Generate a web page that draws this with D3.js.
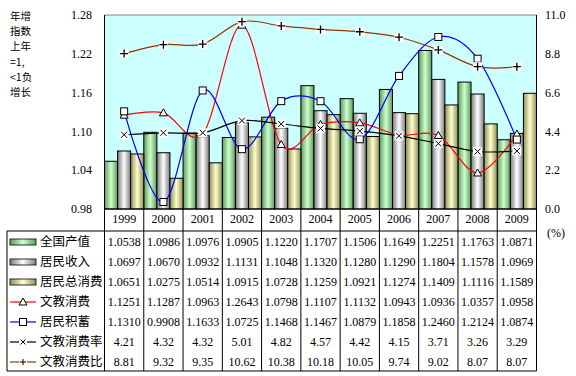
<!DOCTYPE html>
<html>
<head>
<meta charset="utf-8">
<script src="https://cdn.jsdelivr.net/npm/d3@7"></script>
<style>
  body { margin: 0; background: #fff; }
  svg { display: block; }
  .serif { font-family: 'Liberation Serif', 'DejaVu Serif', serif; }
  .cjk { font-family: 'Noto Sans CJK SC', sans-serif; }
</style>
</head>
<body>
<svg id="chart" width="576" height="376"></svg>
<script>
const years = ['1999', '2000', '2001', '2002', '2003', '2004', '2005', '2006', '2007', '2008', '2009']
const gdp = [1.0538, 1.0986, 1.0976, 1.0905, 1.1220, 1.1707, 1.1506, 1.1649, 1.2251, 1.1763, 1.0871]
const income = [1.0697, 1.0670, 1.0932, 1.1131, 1.1048, 1.1320, 1.1280, 1.1290, 1.1804, 1.1578, 1.0969]
const consumption = [1.0651, 1.0275, 1.0514, 1.0915, 1.0728, 1.1259, 1.0921, 1.1274, 1.1409, 1.1116, 1.1589]
const eduSpend = [1.1251, 1.1287, 1.0963, 1.2643, 1.0798, 1.1107, 1.1132, 1.0943, 1.0936, 1.0357, 1.0958]
const savings = [1.1310, 0.9908, 1.1633, 1.0725, 1.1468, 1.1467, 1.0879, 1.1858, 1.2460, 1.2124, 1.0874]
const eduRate = [4.21, 4.32, 4.32, 5.01, 4.82, 4.57, 4.42, 4.15, 3.71, 3.26, 3.29]
const eduRatio = [8.81, 9.32, 9.35, 10.62, 10.38, 10.18, 10.05, 9.74, 9.02, 8.07, 8.07]
const leftTicks = [0.98, 1.04, 1.10, 1.16, 1.22, 1.28]
const rightTicks = [0, 2.2, 4.4, 6.6, 8.8, 11]
const titleLines = ['年增', '指数', '上年', '=1,', '<1负', '增长']

const barSeries = [
  { name: '全国产值', values: gdp, dark: '#5f9a5f', light: '#ccffcc' },
  { name: '居民收入', values: income, dark: '#7a7a7a', light: '#ffffff' },
  { name: '居民总消费', values: consumption, dark: '#8f8f5c', light: '#ffffcc' },
]
const lineSeries = [
  { name: '文教消费', values: eduSpend, color: '#ff0000', marker: 'triangle', axis: 'left', digits: 4 },
  { name: '居民积蓄', values: savings, color: '#0000ff', marker: 'square', axis: 'left', digits: 4 },
  { name: '文教消费率', values: eduRate, color: '#000000', marker: 'x', axis: 'right', digits: 2 },
  { name: '文教消费比', values: eduRatio, color: '#993300', marker: 'plus', axis: 'right', digits: 2 },
]

const plotL = 104.5, plotR = 536.5, plotT = 15, plotB = 209
const tableTop = 231, rowH = 20, tableLeft = 7

const svg = d3.select('#chart')
const defs = svg.append('defs')

barSeries.forEach((s, i) => {
  const g = defs.append('linearGradient').attr('id', 'grad' + i)
    .attr('x1', '0%').attr('x2', '100%').attr('y1', '0%').attr('y2', '0%')
  g.append('stop').attr('offset', '0%').attr('stop-color', s.dark)
  g.append('stop').attr('offset', '50%').attr('stop-color', s.light)
  g.append('stop').attr('offset', '100%').attr('stop-color', s.dark)
})

const x = d3.scaleBand().domain(years).range([plotL, plotR]).padding(0)
const sub = d3.scaleBand().domain(d3.range(barSeries.length)).range([0, x.bandwidth()])
const yL = d3.scaleLinear().domain([0.98, 1.28]).range([plotB, plotT])
const yR = d3.scaleLinear().domain([0, 11]).range([plotB, plotT])

// plot background
svg.append('rect').attr('x', plotL).attr('y', plotT)
  .attr('width', plotR - plotL).attr('height', plotB - plotT).attr('fill', '#ccffff')

// bars
barSeries.forEach((s, i) => {
  svg.append('g').selectAll('rect').data(s.values).join('rect')
    .attr('x', (d, j) => x(years[j]) + sub(i))
    .attr('y', d => yL(d))
    .attr('width', sub.bandwidth())
    .attr('height', d => plotB - yL(d))
    .attr('fill', `url(#grad${i})`)
    .attr('stroke', '#000').attr('stroke-width', 1)
})

// borders
svg.append('line').attr('x1', plotL).attr('x2', plotR).attr('y1', plotT).attr('y2', plotT)
  .attr('stroke', '#808080')
svg.append('line').attr('x1', plotL).attr('x2', plotL).attr('y1', plotT).attr('y2', plotB)
  .attr('stroke', '#000')
svg.append('line').attr('x1', plotR).attr('x2', plotR).attr('y1', plotT).attr('y2', plotB)
  .attr('stroke', '#000')

function drawMarker(g, type, cx, cy) {
  if (type === 'triangle') {
    g.append('path')
      .attr('d', `M${cx},${cy - 4}L${cx + 4},${cy + 3}L${cx - 4},${cy + 3}Z`)
      .attr('fill', '#fff').attr('stroke', '#000').attr('stroke-width', 1)
  } else if (type === 'square') {
    g.append('rect').attr('x', cx - 3.5).attr('y', cy - 3.5).attr('width', 7).attr('height', 7)
      .attr('fill', '#fff').attr('stroke', '#000').attr('stroke-width', 1)
  } else if (type === 'x') {
    g.append('rect').attr('x', cx - 4.5).attr('y', cy - 4.5).attr('width', 9).attr('height', 9).attr('fill', '#fff')
    g.append('path').attr('d', `M${cx - 3},${cy - 3}L${cx + 3},${cy + 3}M${cx - 3},${cy + 3}L${cx + 3},${cy - 3}`)
      .attr('stroke', '#000').attr('stroke-width', 1)
  } else if (type === 'plus') {
    g.append('rect').attr('x', cx - 4.5).attr('y', cy - 4.5).attr('width', 9).attr('height', 9).attr('fill', '#fff')
    g.append('path').attr('d', `M${cx - 4},${cy}L${cx + 4},${cy}M${cx},${cy - 4}L${cx},${cy + 4}`)
      .attr('stroke', '#000').attr('stroke-width', 1.3)
  }
}

// lines
const cx = d => x(d) + x.bandwidth() / 2
lineSeries.forEach(s => {
  const y = s.axis === 'left' ? yL : yR
  const line = d3.line().x((d, j) => cx(years[j])).y(d => y(d)).curve(d3.curveCatmullRom.alpha(0))
  svg.append('path').datum(s.values).attr('d', line)
    .attr('fill', 'none').attr('stroke', s.color).attr('stroke-width', 1.2)
})
lineSeries.forEach(s => {
  const y = s.axis === 'left' ? yL : yR
  const g = svg.append('g')
  s.values.forEach((v, j) => drawMarker(g, s.marker, cx(years[j]), y(v)))
})

// axis labels
svg.append('g').selectAll('text').data(leftTicks).join('text')
  .attr('class', 'serif').attr('x', 92).attr('y', d => yL(d)).attr('dy', '0.35em')
  .attr('text-anchor', 'end').attr('font-size', 12).text(d => d.toFixed(2))
svg.append('g').selectAll('text').data(rightTicks).join('text')
  .attr('class', 'serif').attr('x', 545).attr('y', d => yR(d)).attr('dy', '0.35em')
  .attr('font-size', 12).text(d => d.toFixed(1))
svg.append('text').attr('class', 'serif').attr('x', 547).attr('y', 233).attr('dy', '0.35em')
  .attr('font-size', 12).text('(%)')

// left title
svg.append('g').selectAll('text').data(titleLines).join('text')
  .attr('class', 'cjk').attr('x', 10).attr('y', (d, i) => 16 + i * 15.3).attr('dy', '0.35em')
  .attr('font-size', 10.5).text(d => d)

// table grid
const tableBottom = tableTop + rowH * 7
const grid = svg.append('g').attr('stroke', '#000').attr('stroke-width', 1)
grid.append('line').attr('x1', plotL).attr('x2', plotR).attr('y1', plotB).attr('y2', plotB)
grid.append('line').attr('x1', tableLeft).attr('x2', plotR).attr('y1', tableTop).attr('y2', tableTop)
grid.append('line').attr('x1', tableLeft).attr('x2', plotR).attr('y1', tableBottom).attr('y2', tableBottom)
grid.append('line').attr('x1', tableLeft).attr('x2', tableLeft).attr('y1', tableTop).attr('y2', tableBottom)
grid.selectAll('.vline').data(years.concat(['end'])).join('line')
  .attr('x1', (d, i) => i < years.length ? x(d) : plotR)
  .attr('x2', (d, i) => i < years.length ? x(d) : plotR)
  .attr('y1', plotB).attr('y2', tableBottom)

// year headers
svg.append('g').selectAll('text').data(years).join('text')
  .attr('class', 'serif').attr('x', d => cx(d)).attr('y', 219).attr('dy', '0.35em')
  .attr('text-anchor', 'middle').attr('font-size', 12).text(d => d)

// table rows
const rows = barSeries.map((s, i) => ({ ...s, kind: 'bar', digits: 4, gi: i }))
  .concat(lineSeries.map(s => ({ ...s, kind: 'line' })))
rows.forEach((r, i) => {
  const ry = tableTop + rowH * i + rowH / 2 + 1
  const g = svg.append('g')
  if (r.kind === 'bar') {
    g.append('rect').attr('x', 10).attr('y', ry - 3).attr('width', 26).attr('height', 6)
      .attr('fill', `url(#grad${r.gi})`).attr('stroke', '#000').attr('stroke-width', 0.8)
  } else {
    g.append('line').attr('x1', 10).attr('x2', 36).attr('y1', ry).attr('y2', ry)
      .attr('stroke', r.color).attr('stroke-width', 1.2)
    if (r.marker === 'triangle' || r.marker === 'square') {
      drawMarker(g, r.marker, 23, ry)
    } else {
      const path = r.marker === 'x'
        ? `M20.5,${ry - 2.5}L25.5,${ry + 2.5}M20.5,${ry + 2.5}L25.5,${ry - 2.5}`
        : `M20,${ry}L26,${ry}M23,${ry - 3}L23,${ry + 3}`
      g.append('rect').attr('x', 19).attr('y', ry - 4).attr('width', 8).attr('height', 8).attr('fill', '#fff')
      g.append('path').attr('d', path).attr('stroke', '#000').attr('stroke-width', 1)
    }
  }
  g.append('text').attr('class', 'cjk').attr('x', 40).attr('y', ry).attr('dy', '0.35em')
    .attr('font-size', 12.5).text(r.name)
  g.selectAll('.val').data(r.values).join('text')
    .attr('class', 'serif').attr('x', (d, j) => cx(years[j])).attr('y', ry).attr('dy', '0.35em')
    .attr('text-anchor', 'middle').attr('font-size', 12).text(d => d.toFixed(r.digits))
})
</script>
</body>
</html>
